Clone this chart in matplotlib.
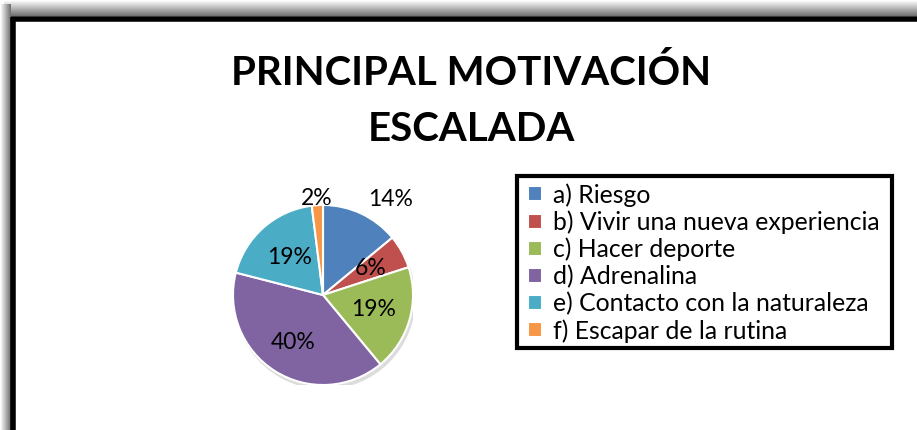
import numpy as np
import matplotlib
matplotlib.use('Agg')
import matplotlib.pyplot as plt

# data
labels = ['a) Riesgo', 'b) Vivir una nueva experiencia', 'c) Hacer deporte',
          'd) Adrenalina', 'e) Contacto con la naturaleza',
          'f) Escapar de la rutina']
shares = [14, 6, 19, 40, 19, 2]
colors = ['#4F81BD', '#C0504D', '#9BBB59', '#8064A2', '#4BACC6', '#F79646']
title = 'PRINCIPAL MOTIVACIÓN\nESCALADA'

# label placement per wedge (distance in pie radii, horizontal alignment)
lab_dist = [1.17, 0.60, 0.58, 0.62, 0.56, 1.07]
lab_ha = ['left', 'center', 'center', 'center', 'center', 'center']

plt.rcParams['font.family'] = ['Lato', 'DejaVu Sans']

W, H = 917, 430
fig = plt.figure(figsize=(W / 100, H / 100), dpi=100)
fig.patch.set_facecolor('white')

# frame with soft shadow, in pixel coordinates
bg = fig.add_axes([0, 0, 1, 1])
bg.set_xlim(0, W)
bg.set_ylim(H, 0)
bg.axis('off')

top = np.linspace(1.0, 0.45, 16)[:, None] * np.ones((1, 10))
bg.imshow(np.dstack([top] * 3), extent=(4, W, 16, 0), aspect='auto',
          interpolation='bilinear', zorder=0)
left = np.linspace(1.0, 0.45, 11)[None, :] * np.ones((10, 1))
bg.imshow(np.dstack([left] * 3), extent=(0, 11, H, 4), aspect='auto',
          interpolation='bilinear', zorder=0)
bg.plot([11, W], [18.5, 18.5], color='black', lw=4, solid_capstyle='butt')
bg.plot([13, 13], [16.5, H], color='black', lw=4, solid_capstyle='butt')

# legend box
bg.add_patch(plt.Rectangle((517, 176), 892 - 517, 348 - 176, fill=False,
                           edgecolor='black', lw=3))

fig.text(471 / W, 1 - 101 / H, title, ha='center', va='center',
         fontsize=29, fontweight='bold', linespacing=1.62)

# pie
cx, cy, R = 323, 295, 90
ax = fig.add_axes([(cx - R) / W, (H - cy - R) / H, 2 * R / W, 2 * R / H])
shadow = plt.Circle((0.02, -0.04), 1.0, color='#dcdcdc', zorder=0)
ax.add_patch(shadow)
wedges, _ = ax.pie(shares, colors=colors, startangle=90, counterclock=False,
                   radius=1.0, wedgeprops=dict(edgecolor='white', linewidth=1.5))
ax.set_xlim(-1, 1)
ax.set_ylim(-1, 1)
ax.set_aspect('equal')
ax.axis('off')
for w, v, d, ha in zip(wedges, shares, lab_dist, lab_ha):
    mid = np.deg2rad((w.theta1 + w.theta2) / 2)
    ax.text(d * np.cos(mid), d * np.sin(mid), '{:d}%'.format(v),
            ha=ha, va='center', fontsize=16.5, clip_on=False)

leg = fig.legend(wedges, labels, loc='upper left',
                 bbox_to_anchor=(528 / W, 1 - 183 / H),
                 fontsize=17.8, frameon=False,
                 handlelength=0.55, handleheight=0.55, handletextpad=0.45,
                 labelspacing=0.15, borderaxespad=0, borderpad=0)

fig.savefig('out.png', dpi=100)
